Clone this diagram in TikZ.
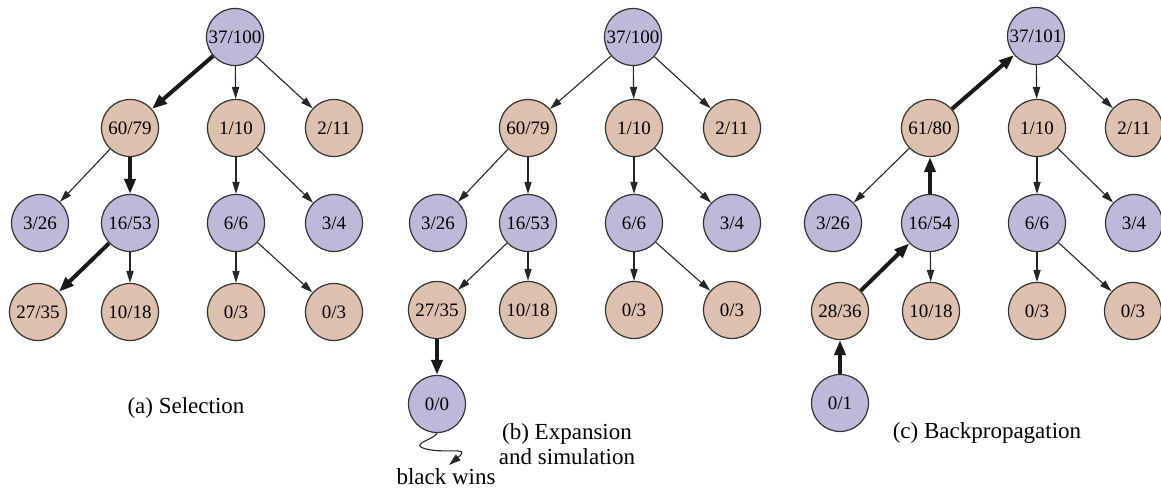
\documentclass[tikz,border=0pt]{standalone}
\usepackage{fontspec}
\setmainfont{Liberation Serif}
\usepackage{tikz}
\usetikzlibrary{arrows.meta, positioning}
\definecolor{purp}{RGB}{192,184,216}
\definecolor{tann}{RGB}{222,192,174}

\begin{document}
\begin{tikzpicture}[x=0.5pt, y=-0.5pt,
  st/.style={circle, draw=black!80, line width=0.6pt, minimum size=28.5pt, inner sep=0pt, font=\fontsize{9.5}{11}\selectfont, fill=#1},
  arr/.style={-{Triangle[length=6pt, width=3.6pt]}, line width=0.55pt, draw=black!85},
  sel/.style={-{Triangle[length=7.5pt, width=5.5pt]}, line width=2pt, draw=black!90},
  captxt/.style={font=\fontsize{11.5}{12.5}\selectfont, align=center}
]
\useasboundingbox (0,0) rectangle (1161,490);

% (a) Selection
\node[st=purp] (a0) at (235,37) {37/100};
\node[st=tann] (a1) at (130,128) {60/79};
\node[st=tann] (a2) at (236,128) {1/10};
\node[st=tann] (a3) at (334,128) {2/11};
\node[st=purp] (a4) at (40,223) {3/26};
\node[st=purp] (a5) at (130,223) {16/53};
\node[st=purp] (a6) at (236,223) {6/6};
\node[st=purp] (a7) at (334,223) {3/4};
\node[st=tann] (a8) at (38,312) {27/35};
\node[st=tann] (a9) at (130,312) {10/18};
\node[st=tann] (a10) at (236,312) {0/3};
\node[st=tann] (a11) at (334,312) {0/3};
\draw[sel] (a0) -- (a1);
\draw[arr] (a0) -- (a2);
\draw[arr] (a0) -- (a3);
\draw[arr] (a1) -- (a4);
\draw[sel] (a1) -- (a5);
\draw[arr] (a2) -- (a6);
\draw[arr] (a2) -- (a7);
\draw[sel] (a5) -- (a8);
\draw[arr] (a5) -- (a9);
\draw[arr] (a6) -- (a10);
\draw[arr] (a6) -- (a11);
\node[captxt] (capa) at (186,408) {(a) Selection};

% (b) Expansion and simulation
\node[st=purp] (b0) at (633,37) {37/100};
\node[st=tann] (b1) at (528,128) {60/79};
\node[st=tann] (b2) at (634,128) {1/10};
\node[st=tann] (b3) at (732,128) {2/11};
\node[st=purp] (b4) at (438,223) {3/26};
\node[st=purp] (b5) at (528,223) {16/53};
\node[st=purp] (b6) at (634,223) {6/6};
\node[st=purp] (b7) at (732,223) {3/4};
\node[st=tann] (b8) at (437,310) {27/35};
\node[st=tann] (b9) at (528,310) {10/18};
\node[st=tann] (b10) at (634,310) {0/3};
\node[st=tann] (b11) at (732,310) {0/3};
\node[st=purp] (b12) at (437,404) {0/0};
\draw[arr] (b0) -- (b1);
\draw[arr] (b0) -- (b2);
\draw[arr] (b0) -- (b3);
\draw[arr] (b1) -- (b4);
\draw[arr] (b1) -- (b5);
\draw[arr] (b2) -- (b6);
\draw[arr] (b2) -- (b7);
\draw[arr] (b5) -- (b8);
\draw[arr] (b5) -- (b9);
\draw[arr] (b6) -- (b10);
\draw[arr] (b6) -- (b11);
\draw[sel] (b8) -- (b12);
\coordinate (bw) at (449,465);
\draw[arr] (b12.south) .. controls (434,440) and (408,444) .. (426,449)
  .. controls (446,454) and (472,446) .. (bw);
\node[captxt] (wins) at (446,477) {black wins};
\node[captxt] (capb) at (567,444) {(b) Expansion\\and simulation};

% (c) Backpropagation
\node[st=purp] (c0) at (1036,36) {37/101};
\node[st=tann] (c1) at (930,128) {61/80};
\node[st=tann] (c2) at (1037,128) {1/10};
\node[st=tann] (c3) at (1134,128) {2/11};
\node[st=purp] (c4) at (833,223) {3/26};
\node[st=purp] (c5) at (930,223) {16/54};
\node[st=purp] (c6) at (1037,223) {6/6};
\node[st=purp] (c7) at (1134,223) {3/4};
\node[st=tann] (c8) at (840,311) {28/36};
\node[st=tann] (c9) at (931,311) {10/18};
\node[st=tann] (c10) at (1037,311) {0/3};
\node[st=tann] (c11) at (1133,311) {0/3};
\node[st=purp] (c12) at (840,403) {0/1};
\draw[sel] (c1) -- (c0);
\draw[arr] (c0) -- (c2);
\draw[arr] (c0) -- (c3);
\draw[arr] (c1) -- (c4);
\draw[sel] (c5) -- (c1);
\draw[arr] (c2) -- (c6);
\draw[arr] (c2) -- (c7);
\draw[sel] (c8) -- (c5);
\draw[arr] (c5) -- (c9);
\draw[arr] (c6) -- (c10);
\draw[arr] (c6) -- (c11);
\draw[sel] (c12) -- (c8);
\node[captxt] (capc) at (987,433) {(c) Backpropagation};
\end{tikzpicture}
\end{document}
